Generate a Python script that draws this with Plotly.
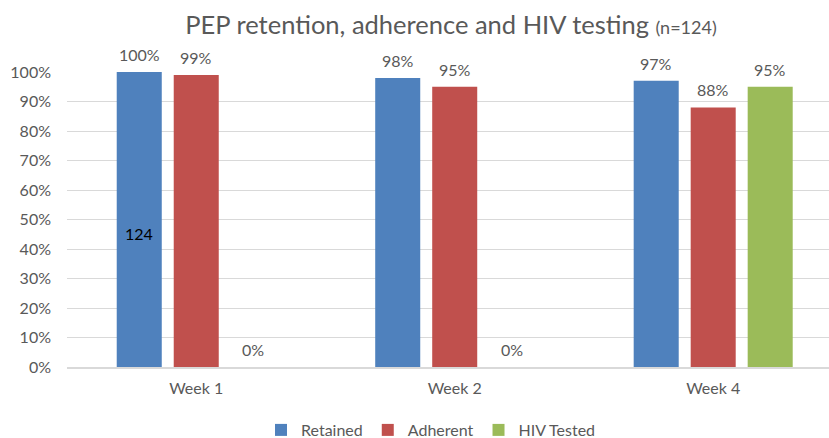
import plotly.graph_objects as go

categories = ["Week 1", "Week 2", "Week 4"]
retained = [1.00, 0.98, 0.97]
adherent = [0.99, 0.95, 0.88]
hiv_tested = [0.00, 0.00, 0.95]
series_names = ["Retained", "Adherent", "HIV Tested"]
series_colors = ["#4F81BD", "#C0504D", "#9BBB59"]
inner_label = "124"
inner_label_y = 0.454
y_ticks = [i / 10 for i in range(11)]

FONT = "Lato, Carlito, Open Sans, sans-serif"
GRAY = "#595959"
BARGAP = 0.3385
GROUPGAP = 0.21

fig = go.Figure()
all_series = [retained, adherent, hiv_tested]
for name, vals, col in zip(series_names, all_series, series_colors):
    fig.add_trace(go.Bar(x=categories, y=vals, name=name, marker_color=col,
                         marker_line_width=0, hoverinfo="skip"))

slot = (1 - BARGAP) / len(all_series)
annotations = []
for k, vals in enumerate(all_series):
    off = (k - (len(all_series) - 1) / 2) * slot
    for i, v in enumerate(vals):
        annotations.append(dict(x=i + off, y=v, xref="x", yref="y",
                                text=f"{v:.0%}", showarrow=False,
                                yanchor="bottom", yshift=6,
                                font=dict(size=16, color=GRAY, family=FONT)))
annotations.append(dict(x=0 - slot, y=inner_label_y, xref="x", yref="y",
                        text=inner_label, showarrow=False,
                        font=dict(size=16, color="#000000", family=FONT)))

fig.update_layout(
    width=829, height=438,
    margin=dict(l=67, r=0, t=72, b=71, autoexpand=False),
    paper_bgcolor="white", plot_bgcolor="white",
    barmode="group", bargap=BARGAP, bargroupgap=GROUPGAP,
    font=dict(family=FONT, color=GRAY, size=16),
    title=dict(text="PEP retention, adherence and HIV testing <span style='font-size:18px'>(n=124)</span>",
               x=451 / 829, xanchor="center", xref="container", y=1 - 25 / 438, yanchor="middle",
               yref="container",
               font=dict(size=25.5, color=GRAY, family=FONT)),
    showlegend=True,
    legend=dict(orientation="h", x=431 / 829, xanchor="center", xref="container",
                y=(438 - 430) / 438, yanchor="middle", yref="container",
                font=dict(size=16, color=GRAY, family=FONT), itemwidth=30,
                traceorder="normal"),
    annotations=annotations,
)
fig.update_xaxes(range=[-0.5, 2.448], showgrid=False, showline=True,
                 linecolor="#d9d9d9", linewidth=2, ticks="", automargin=False,
                 ticklabelstandoff=6,
                 tickfont=dict(size=16, color=GRAY, family=FONT))
fig.update_yaxes(range=[0, 1], tickvals=y_ticks, tickformat=".0%",
                 showgrid=True, gridcolor="#d9d9d9", gridwidth=1,
                 zeroline=False, showline=False, ticks="", automargin=False,
                 ticklabelstandoff=15,
                 tickfont=dict(size=16, color=GRAY, family=FONT))

fig.write_html("out.html", config={"displayModeBar": False},
               post_script="document.body.style.margin='0';")
